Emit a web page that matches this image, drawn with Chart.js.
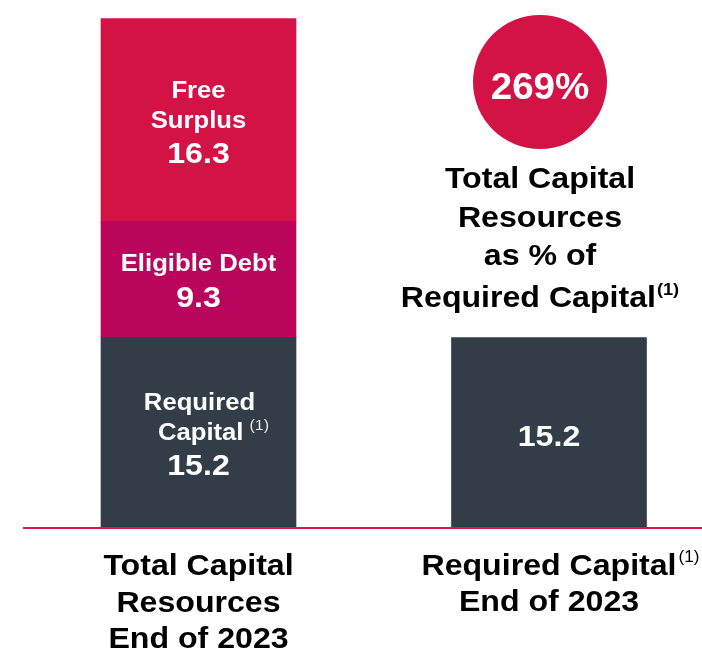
<!DOCTYPE html>
<html>
<head>
<meta charset="utf-8">
<script src="https://cdn.jsdelivr.net/npm/chart.js@4"></script>
<style>
  html, body { margin:0; padding:0; background:#fff; }
  #wrap { width:702px; height:650px; position:relative; }
</style>
</head>
<body>
<div id="wrap"><canvas id="capChart" width="702" height="650"></canvas></div>
<script>
// data
const categories = ['Total Capital Resources End of 2023', 'Required Capital End of 2023'];
const requiredCapital = [15.2, 15.2];
const eligibleDebt = [9.3, null];
const freeSurplus = [16.3, null];
const ratioLabel = '269%';

const FONT = '"Liberation Sans", Arial, sans-serif';
const SLATE = '#333d48', MAGENTA = '#ba055c', CRIMSON = '#d31245';
const SX = 1.07; // reference text is a little wide

function toPoints(vals) {
  return vals.map((v, i) => ({ x: i, y: v }));
}

// one centred line of bold text, with an optional superscript after it
function drawLine(ctx, txt, cx, cy, o) {
  const size = o.size;
  ctx.font = 'bold ' + size + 'px ' + FONT;
  const w = ctx.measureText(txt).width * SX;
  let sw = 0, gap = o.gap ?? 3;
  const supFont = (o.supBold ? 'bold ' : '') + (o.supSize || 14) + 'px ' + FONT;
  if (o.sup) {
    ctx.font = supFont;
    sw = ctx.measureText(o.sup).width * SX + gap;
  }
  const x0 = o.mainCentered ? cx - w / 2 : cx - (w + sw) / 2;
  ctx.save();
  ctx.textAlign = 'left';
  ctx.textBaseline = 'middle';
  ctx.translate(x0, cy);
  ctx.scale(SX, 1);
  ctx.font = 'bold ' + size + 'px ' + FONT;
  ctx.fillStyle = o.color;
  ctx.fillText(txt, 0, 0);
  if (o.sup) {
    ctx.font = supFont;
    ctx.fillStyle = o.supColor || o.color;
    ctx.fillText(o.sup, (w + gap) / SX, -size * 0.3);
  }
  ctx.restore();
}

const decor = {
  id: 'decor',
  afterDatasetsDraw(chart) {
    const ctx = chart.ctx;
    const xs = chart.scales.x, ys = chart.scales.y;
    const c0 = xs.getPixelForValue(0), c1 = xs.getPixelForValue(1);
    const mid = (a, b) => (ys.getPixelForValue(a) + ys.getPixelForValue(b)) / 2;
    const W = { color: '#fff', size: 24 }, N = { color: '#fff', size: 30 }, B = { color: '#000', size: 30 };
    ctx.save();

    // baseline
    ctx.strokeStyle = '#d9184f';
    ctx.lineWidth = 2;
    ctx.beginPath();
    ctx.moveTo(23, ys.getPixelForValue(0) + 1);
    ctx.lineTo(chart.width, ys.getPixelForValue(0) + 1);
    ctx.stroke();

    // labels inside the stacked bar
    const r = requiredCapital[0], e = eligibleDebt[0], f = freeSurplus[0];
    let m = mid(r + e, r + e + f);
    drawLine(ctx, 'Free', c0, m - 29, W);
    drawLine(ctx, 'Surplus', c0, m + 1, W);
    drawLine(ctx, f.toFixed(1), c0, m + 35, N);
    m = mid(r, r + e);
    drawLine(ctx, 'Eligible Debt', c0, m - 15, W);
    drawLine(ctx, e.toFixed(1), c0, m + 19, N);
    m = mid(0, r);
    drawLine(ctx, 'Required', c0 + 1, m - 29, W);
    drawLine(ctx, 'Capital', c0 + 15, m + 1, { ...W, sup: '(1)', supSize: 15, supColor: '#e6e6e6', gap: 6 });
    drawLine(ctx, r.toFixed(1), c0, m + 34, N);

    drawLine(ctx, requiredCapital[1].toFixed(1), c1, mid(0, requiredCapital[1]) + 5, N);

    // ratio bubble
    const bx = 540, by = 82;
    ctx.fillStyle = CRIMSON;
    ctx.beginPath();
    ctx.arc(bx, by, 67, 0, Math.PI * 2);
    ctx.fill();
    drawLine(ctx, ratioLabel, bx, by + 7, { color: '#fff', size: 36 });
    drawLine(ctx, 'Total Capital', bx, 180, B);
    drawLine(ctx, 'Resources', bx, 219, B);
    drawLine(ctx, 'as % of', bx, 257, B);
    drawLine(ctx, 'Required Capital', bx, 299, { ...B, sup: '(1)', supSize: 17, supBold: true, gap: 1 });

    // category labels
    drawLine(ctx, 'Total Capital', c0, 567, B);
    drawLine(ctx, 'Resources', c0, 604, B);
    drawLine(ctx, 'End of 2023', c0, 640, B);
    drawLine(ctx, 'Required Capital', c1, 567, { ...B, sup: '(1)', supSize: 16, gap: 2, mainCentered: true });
    drawLine(ctx, 'End of 2023', c1, 603, B);
    ctx.restore();
  }
};

new Chart(document.getElementById('capChart'), {
  type: 'bar',
  data: {
    datasets: [
      { label: 'Required Capital', data: toPoints(requiredCapital), backgroundColor: SLATE },
      { label: 'Eligible Debt', data: toPoints(eligibleDebt), backgroundColor: MAGENTA },
      { label: 'Free Surplus', data: toPoints(freeSurplus), backgroundColor: CRIMSON }
    ]
  },
  options: {
    responsive: false,
    animation: false,
    barThickness: 195,
    layout: { padding: { left: 23, right: 0, top: 16, bottom: 123 } },
    plugins: { legend: { display: false }, tooltip: { enabled: false } },
    scales: {
      x: { type: 'linear', offset: false, stacked: true, display: false, min: -0.5007, max: 1.4365 },
      y: { stacked: true, display: false, min: 0, max: 41 }
    }
  },
  plugins: [decor]
});
</script>
</body>
</html>
